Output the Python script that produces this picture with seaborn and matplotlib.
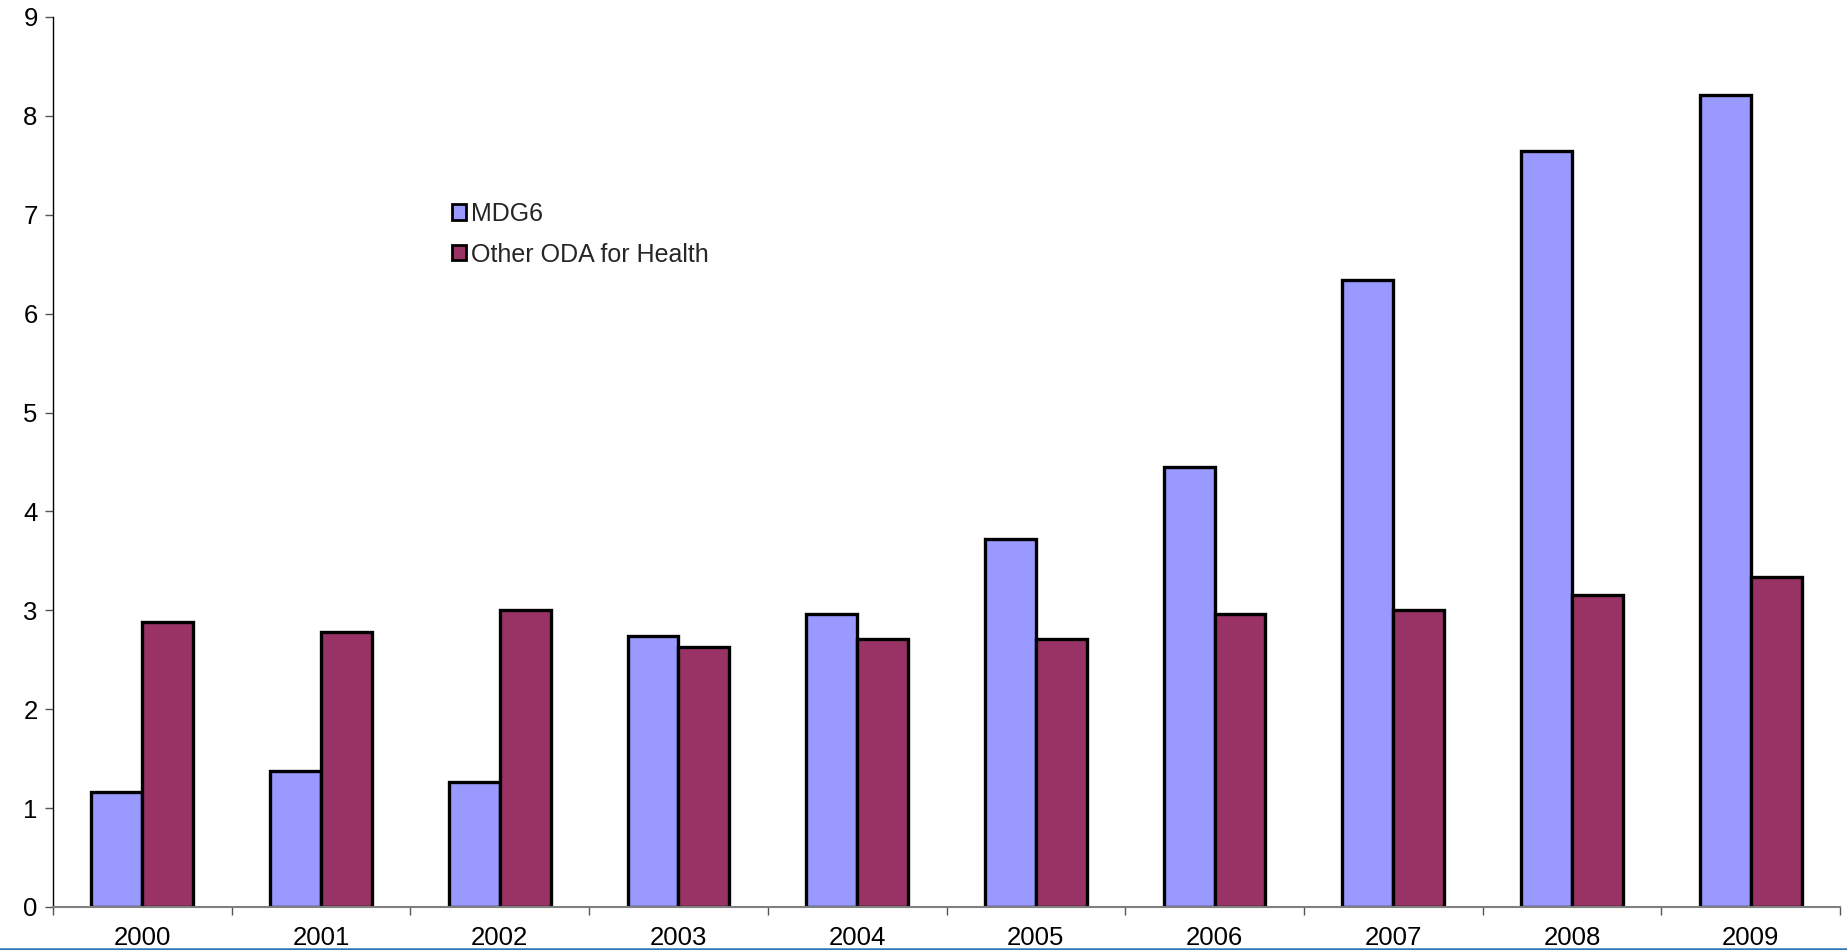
import matplotlib
matplotlib.use("Agg")
import matplotlib.pyplot as plt
import seaborn as sns
import pandas as pd
import numpy as np
from matplotlib.lines import Line2D

years = ["2000", "2001", "2002", "2003", "2004", "2005", "2006", "2007", "2008", "2009"]
mdg6 = [1.16, 1.38, 1.26, 2.74, 2.96, 3.72, 4.45, 6.34, 7.64, 8.21]
other_oda = [2.88, 2.78, 3.00, 2.63, 2.71, 2.71, 2.96, 3.00, 3.16, 3.34]
series_names = ["MDG6", "Other ODA for Health"]
colors = ["#9999FF", "#993366"]

df = pd.DataFrame({
    "year": years * 2,
    "value": mdg6 + other_oda,
    "series": [series_names[0]] * len(years) + [series_names[1]] * len(years),
})

sns.set_style("white")
plt.rcParams["font.family"] = ["Liberation Sans", "DejaVu Sans"]

fig = plt.figure(figsize=(18.47, 9.5), dpi=100)
ax = fig.add_axes([53 / 1847, 1 - 907 / 950, (1840 - 53) / 1847, (907 - 17) / 950])

sns.barplot(data=df, x="year", y="value", hue="series", palette=colors,
            width=0.57, edgecolor="black", linewidth=2.4, saturation=1,
            ax=ax, legend=True)

ax.set_ylim(0, 9)
ax.set_xlim(-0.5, len(years) - 0.5)
ax.set_yticks(range(0, 10))
ax.set_xlabel("")
ax.set_ylabel("")

for s in ["top", "right"]:
    ax.spines[s].set_visible(False)
ax.spines["left"].set_color("black")
ax.spines["left"].set_linewidth(1.0)
ax.spines["bottom"].set_color("#808080")
ax.spines["bottom"].set_linewidth(1.5)

ax.tick_params(axis="y", which="major", direction="out", length=6, width=1,
               color="#555555", labelsize=18.5, pad=5, left=True)
ax.tick_params(axis="x", which="major", length=0, labelsize=18.5, pad=14)
ax.set_xticks(np.arange(-0.5, len(years), 1.0), minor=True)
ax.tick_params(axis="x", which="minor", direction="out", length=6, width=1,
               color="#555555", bottom=True)
for lab in ax.get_xticklabels() + ax.get_yticklabels():
    lab.set_color("black")

handles, labels = ax.get_legend_handles_labels()
for h in handles:
    h.set_linewidth(2.0)
ax.legend(handles, labels, loc="upper left", bbox_to_anchor=(452 / 1847, 1 - 202 / 950),
          bbox_transform=fig.transFigure, frameon=False, fontsize=18,
          handlelength=0.57, handleheight=0.57, handletextpad=0.2,
          labelspacing=0.66, borderpad=0, borderaxespad=0)

fig.add_artist(Line2D([0, 1], [1.2 / 950, 1.2 / 950], transform=fig.transFigure,
                      color="#2E75B6", linewidth=1.8))

fig.savefig("out.png", dpi=100)
